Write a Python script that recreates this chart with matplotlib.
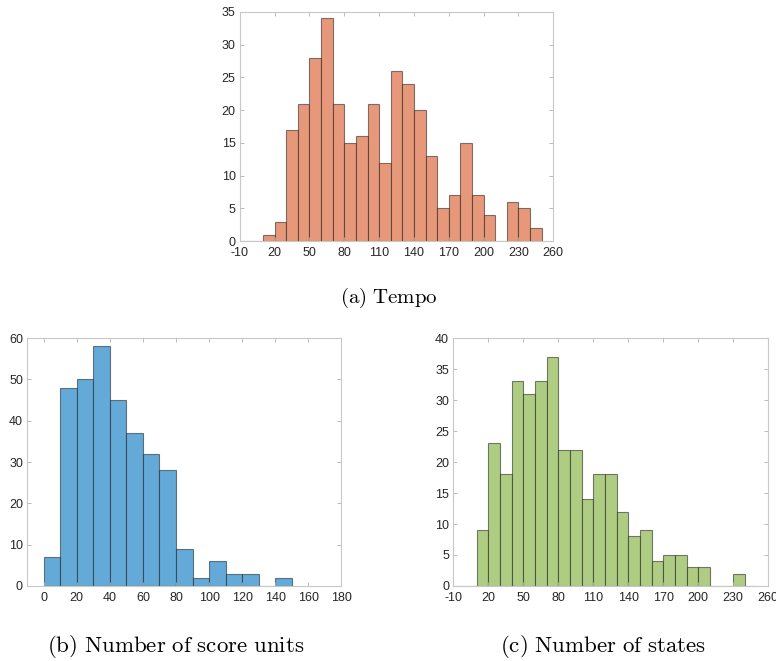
import matplotlib.pyplot as plt
import numpy as np

plt.rcParams['font.family'] = ['Liberation Sans', 'DejaVu Sans']
plt.rcParams['mathtext.fontset'] = 'cm'
plt.rcParams['axes.unicode_minus'] = False

# bin edges start / width
tempo_start = -10
tempo_counts = [0, 0, 1, 3, 17, 21, 28, 34, 21, 15, 16, 21, 12, 26, 24, 20,
                13, 5, 7, 15, 7, 4, 0, 6, 5, 2]

units_start = 0
units_counts = [7, 48, 50, 58, 45, 37, 32, 28, 9, 2, 6, 3, 3, 0, 2]

states_start = -10
states_counts = [0, 0, 9, 23, 18, 33, 31, 33, 37, 22, 22, 14, 18, 18, 12, 8,
                 9, 4, 5, 5, 3, 3, 0, 0, 2, 0]

bin_w = 10

fig = plt.figure(figsize=(7.76, 6.61), dpi=100)


def hist_panel(rect, start, counts, face, xlim, xticks, ylim, yticks):
    ax = fig.add_axes(rect)
    left = start + bin_w * np.arange(len(counts))
    ax.bar(left, counts, width=bin_w, align='edge', color=face,
           edgecolor=(0.1, 0.1, 0.1, 0.55), linewidth=0.8)
    ax.set_xlim(*xlim)
    ax.set_ylim(*ylim)
    ax.set_xticks(xticks)
    ax.set_yticks(yticks)
    ax.tick_params(direction='in', top=True, right=True, length=3,
                   width=0.6, color='#b0b0b0', labelsize=9,
                   labelcolor='#262626')
    ax.tick_params(axis='x', pad=4)
    ax.tick_params(axis='y', pad=3)
    for s in ax.spines.values():
        s.set_color('#c8c8c8')
        s.set_linewidth(0.8)
    return ax


hist_panel([0.309, 0.635, 0.404, 0.347], tempo_start, tempo_counts, '#E8987A',
           (-10, 260), np.arange(-10, 261, 30), (0, 35), np.arange(0, 36, 5))
hist_panel([0.035, 0.1135, 0.405, 0.375], units_start, units_counts, '#64AAD8',
           (-10, 180), np.arange(0, 181, 20), (0, 60), np.arange(0, 61, 10))
hist_panel([0.584, 0.1135, 0.406, 0.375], states_start, states_counts, '#AECD83',
           (-10, 260), np.arange(-10, 261, 30), (0, 40), np.arange(0, 41, 5))

fig.text(389 / 776, 1 - 298 / 661, r'$\mathrm{(a)\ Tempo}$', ha='center',
         va='center', fontsize=15)
fig.text(176 / 776, 1 - 647 / 661, r'$\mathrm{(b)\ Number\ of\ score\ units}$',
         ha='center', va='center', fontsize=16.5)
fig.text(603 / 776, 1 - 647 / 661, r'$\mathrm{(c)\ Number\ of\ states}$',
         ha='center', va='center', fontsize=16.5)

fig.savefig('out.png', dpi=100)
